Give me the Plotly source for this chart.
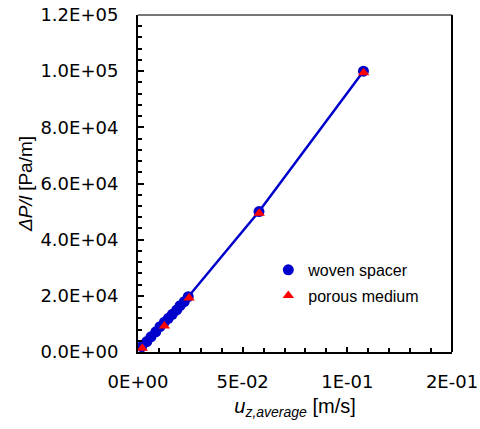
import plotly.graph_objects as go

# Data
woven_u = [0.0018, 0.0042, 0.0062, 0.0085, 0.0105, 0.0126, 0.0145, 0.0164, 0.0185, 0.0201, 0.0221, 0.0240, 0.0578, 0.1077]
woven_dp = [1900, 3700, 5400, 7200, 9000, 10600, 12000, 13400, 15000, 16500, 17900, 19700, 50000, 100000]
porous_u = [0.0020, 0.0126, 0.0244, 0.0579, 0.1078]
porous_dp = [1300, 9300, 19200, 49400, 99400]

x_tickvals = [0, 0.05, 0.10, 0.15]
x_ticktext = ["0E+00", "5E-02", "1E-01", "2E-01"]
y_tickvals = [0, 20000, 40000, 60000, 80000, 100000, 120000]
y_ticktext = ["0.0E+00", "2.0E+04", "4.0E+04", "6.0E+04", "8.0E+04", "1.0E+05", "1.2E+05"]

BLUE = "#0000CC"
RED = "#FF0000"
FONT = "Liberation Sans, Arial, sans-serif"
TICKFONT = "DejaVu Sans"

fig = go.Figure()
fig.add_trace(go.Scatter(x=woven_u, y=woven_dp, mode="lines",
                         line=dict(color=BLUE, width=2.5), showlegend=False, hoverinfo="skip"))
fig.add_trace(go.Scatter(x=woven_u, y=woven_dp, mode="markers", name="woven spacer",
                         marker=dict(symbol="circle", size=11, color=BLUE), legendgroup="a"))
fig.add_trace(go.Scatter(x=porous_u, y=porous_dp, mode="markers", name="porous medium",
                         marker=dict(symbol="triangle-up", size=10, color=RED), legendgroup="b"))

fig.update_layout(
    width=480, height=429,
    margin=dict(l=138, r=28, t=15, b=77, autoexpand=False),
    paper_bgcolor="white", plot_bgcolor="white",
    font=dict(family=FONT, size=17, color="black"),
    legend=dict(x=0.415, y=0.294, xanchor="left", yanchor="top",
                font=dict(family=FONT, size=16, color="black"), bgcolor="rgba(0,0,0,0)",
                tracegroupgap=2, itemwidth=30),
    xaxis=dict(range=[0, 0.15], tickmode="array", tickvals=x_tickvals, ticktext=x_ticktext,
               automargin=False,
               showgrid=False, zeroline=False, showline=True, linecolor="black", linewidth=2,
               ticks="inside", ticklen=5, tickwidth=1.5, tickcolor="black",
               minor=dict(tickmode="linear", tick0=0, dtick=0.01, ticks="inside", ticklen=4,
                          tickwidth=1.5, tickcolor="black", showgrid=False),
               tickfont=dict(family=TICKFONT, size=18, color="black"), ticklabelstandoff=12,
               title=dict(text="<i>u</i><sub><i>z,average</i></sub> [m/s]",
                          font=dict(family=FONT, size=20, color="black"), standoff=8)),
    yaxis=dict(range=[0, 120000], tickmode="array", tickvals=y_tickvals, ticktext=y_ticktext,
               automargin=False,
               showgrid=False, zeroline=False, showline=True, linecolor="black", linewidth=2,
               ticks="inside", ticklen=6, tickwidth=1.5, tickcolor="black",
               minor=dict(tickmode="linear", tick0=0, dtick=4000, ticks="inside", ticklen=4,
                          tickwidth=1.5, tickcolor="black", showgrid=False),
               tickfont=dict(family=TICKFONT, size=18, color="black"), ticklabelstandoff=14,
               title=dict(text="<i>ΔP/l</i> [Pa/m]", font=dict(family=FONT, size=19, color="black"),
                          standoff=3)),
    shapes=[
        dict(type="line", xref="paper", yref="paper", x0=0, x1=1, y0=1, y1=1,
             line=dict(color="#777777", width=2)),
        dict(type="line", xref="paper", yref="paper", x0=1, x1=1, y0=0, y1=1,
             line=dict(color="black", width=2)),
    ],
)

fig.write_html("out.html")
